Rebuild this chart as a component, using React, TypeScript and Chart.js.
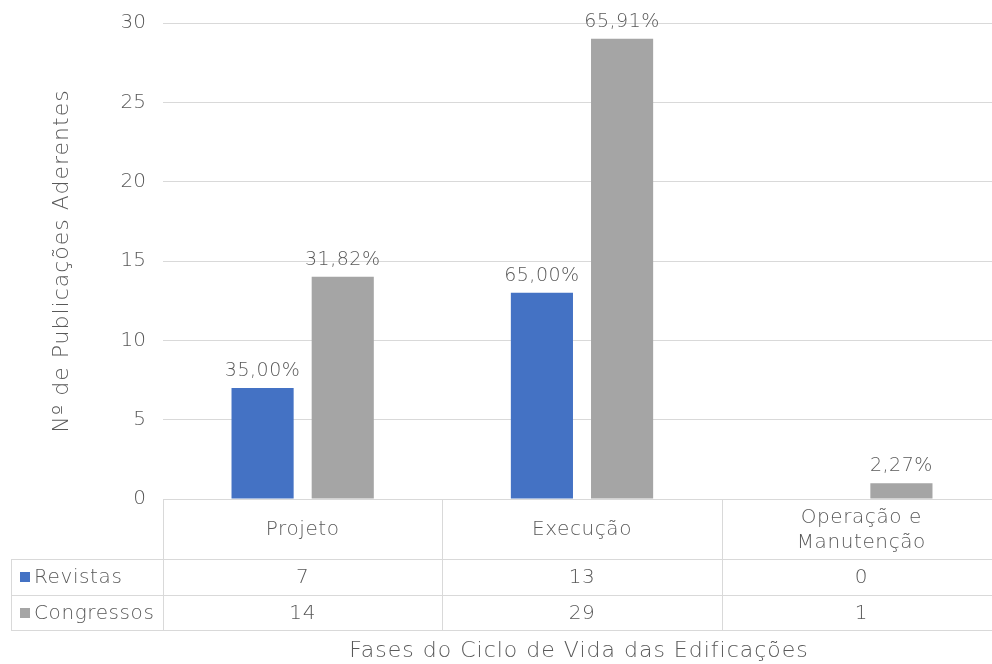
import React, { useEffect, useRef } from "react";
import { Chart, registerables } from "chart.js";

Chart.register(...registerables);

// Fases do ciclo de vida (linhas de cabeçalho da tabela de dados)
const categories: string[][] = [["Projeto"], ["Execução"], ["Operação e", "Manutenção"]];
const seriesNames = ["Revistas", "Congressos"];
const revistas = [7, 13, 0];
const congressos = [14, 29, 1];
const seriesColors = ["#4472C4", "#A5A5A5"];
const yTicks = { min: 0, max: 30, step: 5 };
const yTitle = "Nº de Publicações Aderentes";
const xTitle = "Fases do Ciclo de Vida das Edificações";

const FONT = "'DejaVu Sans', sans-serif";
const WEIGHT = "200";
const TEXT = "#595959";
const LINE = "#d9d9d9";

const W = 1001;
const H = 664;

const pct = (v: number, arr: number[]) => {
  const total = arr.reduce((a, b) => a + b, 0);
  return ((v / total) * 100).toFixed(2).replace(".", ",") + "%";
};

const tablePlugin = {
  id: "dataTable",
  afterDraw(chart: any) {
    const ctx: CanvasRenderingContext2D = chart.ctx;
    const area = chart.chartArea;
    const xs = chart.scales.x;
    const n = categories.length;
    const cw = (area.right - area.left) / n;
    const top = area.bottom;
    const rowH = 60;
    const r1 = top + rowH;
    const r2 = r1 + 36;
    const r3 = r2 + 35;
    const legendLeft = 11;

    ctx.save();

    // rótulos de dados (participação de cada série)
    const all = [revistas, congressos];
    ctx.font = `${WEIGHT} 19px ${FONT}`;
    ctx.fillStyle = TEXT;
    ctx.textAlign = "center";
    ctx.textBaseline = "alphabetic";
    (ctx as any).letterSpacing = "0.5px";
    all.forEach((arr, d) => {
      const meta = chart.getDatasetMeta(d);
      arr.forEach((v, i) => {
        if (v === 0) return;
        const el = meta.data[i];
        ctx.fillText(pct(v, arr), el.x, el.y - 12);
      });
    });

    // grade da tabela
    ctx.strokeStyle = LINE;
    ctx.lineWidth = 1;
    ctx.beginPath();
    const hline = (y: number, x0: number) => {
      ctx.moveTo(x0, Math.round(y) + 0.5);
      ctx.lineTo(area.right, Math.round(y) + 0.5);
    };
    hline(top, area.left);
    hline(r1, legendLeft);
    hline(r2, legendLeft);
    hline(r3, legendLeft);
    const vline = (x: number, y0: number) => {
      ctx.moveTo(Math.round(x) + 0.5, y0);
      ctx.lineTo(Math.round(x) + 0.5, Math.round(r3) + 0.5);
    };
    vline(legendLeft, Math.round(r1) + 0.5);
    for (let i = 0; i <= n; i++) vline(area.left + i * cw, Math.round(top) + 0.5);
    ctx.stroke();

    // cabeçalho
    ctx.font = `${WEIGHT} 20px ${FONT}`;
    ctx.fillStyle = TEXT;
    ctx.textAlign = "center";
    ctx.textBaseline = "middle";
    (ctx as any).letterSpacing = "0.6px";
    categories.forEach((lines, i) => {
      const cx = xs.getPixelForValue(i);
      const cy = (top + r1) / 2 + 1;
      const lh = 25;
      lines.forEach((t, k) => {
        ctx.fillText(t, cx, cy + (k - (lines.length - 1) / 2) * lh);
      });
    });

    // linhas de valores
    const rows = [
      { y: (r1 + r2) / 2, data: revistas },
      { y: (r2 + r3) / 2, data: congressos },
    ];
    rows.forEach((row, s) => {
      row.data.forEach((v, i) => {
        ctx.fillText(String(v), xs.getPixelForValue(i), row.y + 1);
      });
      ctx.fillStyle = seriesColors[s];
      ctx.fillRect(20, Math.round(row.y - 5), 10, 10);
      ctx.fillStyle = TEXT;
      ctx.textAlign = "left";
      ctx.fillText(seriesNames[s], 34, row.y + 1);
      ctx.textAlign = "center";
    });

    // títulos dos eixos
    ctx.font = `${WEIGHT} 22px ${FONT}`;
    (ctx as any).letterSpacing = "1px";
    ctx.textBaseline = "middle";
    ctx.fillText(xTitle, 579, 651);
    ctx.save();
    ctx.translate(62, (area.top + area.bottom) / 2);
    ctx.rotate(-Math.PI / 2);
    ctx.fillText(yTitle, 0, 0);
    ctx.restore();

    ctx.restore();
  },
};

export default function App() {
  const ref = useRef<HTMLCanvasElement>(null);

  useEffect(() => {
    if (!ref.current) return;
    const chart = new Chart(ref.current, {
      type: "bar",
      data: {
        labels: categories.map((c) => c.join(" ")),
        datasets: [
          { label: seriesNames[0], data: revistas, backgroundColor: seriesColors[0] },
          { label: seriesNames[1], data: congressos, backgroundColor: seriesColors[1] },
        ],
      },
      options: {
        responsive: false,
        animation: false,
        layout: { padding: { left: 0, right: 0, top: 23, bottom: 165 } },
        datasets: { bar: { categoryPercentage: 0.574, barPercentage: 0.775 } },
        plugins: { legend: { display: false }, tooltip: { enabled: false } },
        scales: {
          x: { display: false },
          y: {
            min: yTicks.min,
            max: yTicks.max,
            ticks: {
              stepSize: yTicks.step,
              padding: 17,
              color: TEXT,
              font: { family: FONT, size: 20, weight: WEIGHT },
            },
            grid: { color: LINE, drawTicks: false },
            border: { display: false },
            afterFit: (s: any) => {
              s.width = 163;
              s.paddingTop = 0;
              s.paddingBottom = 0;
            },
          },
        },
      },
      plugins: [tablePlugin],
    });
    return () => chart.destroy();
  }, []);

  return (
    <div
      style={{
        position: "fixed",
        left: 0,
        top: 0,
        width: 992,
        height: 664,
        overflow: "hidden",
        background: "#fff",
      }}
    >
      <canvas ref={ref} width={W} height={H} style={{ width: W, height: H, display: "block" }} />
    </div>
  );
}
